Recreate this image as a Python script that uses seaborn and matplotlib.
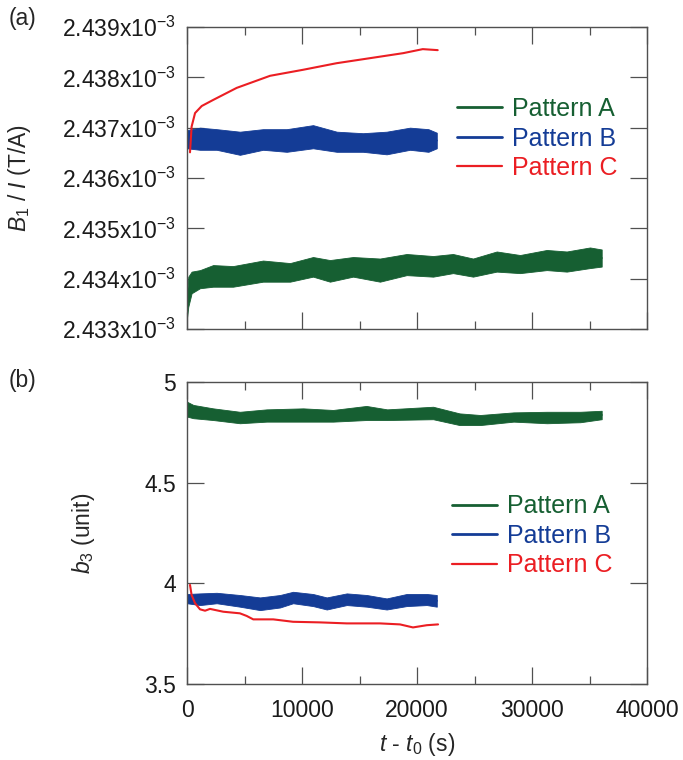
import matplotlib
matplotlib.use("Agg")
import matplotlib.pyplot as plt
from matplotlib.lines import Line2D
from matplotlib.ticker import FixedLocator, MultipleLocator, FuncFormatter
import numpy as np
import pandas as pd
import seaborn as sns

# --- data ------------------------------------------------------------------
# Panel (a): B1 / I in units of 1e-3 T/A. Noisy traces are kept as envelopes.
A1_T = [0, 110, 400, 1130, 2270, 4000, 6610, 8960, 10960, 12430, 14440, 16780,
        19100, 21400, 23130, 24870, 26930, 28960, 31280, 33020, 35040, 36060]
A1_LO = [2.43322, 2.43344, 2.43371, 2.43381, 2.43384, 2.43384, 2.43394, 2.43394,
         2.43404, 2.43394, 2.43404, 2.43394, 2.43407, 2.43404, 2.43411, 2.43404,
         2.43414, 2.43411, 2.43417, 2.43414, 2.43421, 2.43424]
A1_HI = [2.43360, 2.43404, 2.43414, 2.43417, 2.43427, 2.43425, 2.43436, 2.43431,
         2.43443, 2.43437, 2.43443, 2.43440, 2.43449, 2.43445, 2.43449, 2.43440,
         2.43454, 2.43447, 2.43457, 2.43454, 2.43462, 2.43458]

B1_T = [0, 1130, 2580, 4600, 6610, 8670, 10960, 13020, 15300, 17360, 19390, 20990, 21720]
B1_LO = [2.43659, 2.43656, 2.43656, 2.43646, 2.43656, 2.43652, 2.43659, 2.43652,
         2.43652, 2.43647, 2.43656, 2.43652, 2.43659]
B1_HI = [2.43695, 2.43700, 2.43697, 2.43692, 2.43697, 2.43697, 2.43705, 2.43692,
         2.43689, 2.43692, 2.43700, 2.43697, 2.43690]

C1_T = [260, 400, 700, 1280, 2270, 4320, 7220, 10100, 13000, 15900, 18800, 20500, 21800]
C1_V = [2.43651, 2.43702, 2.43729, 2.43743, 2.43755, 2.43779, 2.43803, 2.43815,
        2.43828, 2.43838, 2.43848, 2.43856, 2.43854]

# Panel (b): b3 (unit)
A3_T = [0, 550, 2270, 4600, 6930, 10100, 12700, 15600, 17400, 21400, 23700, 25500,
        28400, 31300, 34200, 36060]
A3_LO = [4.828, 4.820, 4.811, 4.795, 4.803, 4.803, 4.803, 4.811, 4.811, 4.815,
         4.786, 4.786, 4.803, 4.795, 4.800, 4.815]
A3_HI = [4.902, 4.886, 4.869, 4.852, 4.864, 4.869, 4.861, 4.881, 4.864, 4.877,
         4.844, 4.836, 4.849, 4.852, 4.852, 4.857]

B3_T = [0, 1130, 2580, 4600, 6350, 8090, 9220, 10960, 12150, 13890, 15630, 17360,
        19100, 20850, 21720]
B3_LO = [3.901, 3.892, 3.901, 3.884, 3.867, 3.880, 3.901, 3.887, 3.870, 3.892,
         3.884, 3.870, 3.887, 3.892, 3.884]
B3_HI = [3.947, 3.950, 3.953, 3.942, 3.930, 3.942, 3.958, 3.947, 3.930, 3.950,
         3.942, 3.925, 3.947, 3.947, 3.942]

C3_T = [260, 400, 700, 1130, 1570, 2000, 3150, 4600, 5190, 5760, 7500, 9220,
        11570, 13890, 16780, 18520, 19650, 20850, 21830]
C3_V = [3.992, 3.942, 3.901, 3.871, 3.864, 3.873, 3.859, 3.851, 3.838, 3.821,
        3.821, 3.809, 3.806, 3.801, 3.801, 3.796, 3.781, 3.792, 3.796]

PATTERNS = ["Pattern A", "Pattern B", "Pattern C"]
COLORS = {"Pattern A": "#165f32", "Pattern B": "#143c96", "Pattern C": "#eb1e23"}
B1_TICKS = [2.433, 2.434, 2.435, 2.436, 2.437, 2.438, 2.439]
B3_TICKS = [3.5, 4.0, 4.5, 5.0]
T_TICKS = [0, 10000, 20000, 30000, 40000]


def band_frame(name, t, lo, hi, scale=1.0):
    """Two rows per time (low/high) so lineplot's min-max interval draws the band."""
    t = list(t) + list(t)
    v = (np.array(list(lo) + list(hi)) * scale).tolist()
    return pd.DataFrame({"t": t, "v": v, "pattern": name})


def line_frame(name, t, v, scale=1.0):
    return pd.DataFrame({"t": t, "v": (np.array(v) * scale).tolist(), "pattern": name})


df_a = pd.concat([
    band_frame("Pattern A", A1_T, A1_LO, A1_HI, 1e-3),
    band_frame("Pattern B", B1_T, B1_LO, B1_HI, 1e-3),
    line_frame("Pattern C", C1_T, C1_V, 1e-3),
])
df_b = pd.concat([
    band_frame("Pattern A", A3_T, A3_LO, A3_HI),
    band_frame("Pattern B", B3_T, B3_LO, B3_HI),
    line_frame("Pattern C", C3_T, C3_V),
])

# --- style --------------------------------------------------------------------
sns.set_style("ticks")
plt.rcParams["font.family"] = ["Liberation Sans", "DejaVu Sans"]
plt.rcParams["mathtext.fontset"] = "custom"
plt.rcParams["mathtext.rm"] = "Liberation Sans"
plt.rcParams["mathtext.it"] = "Liberation Sans:italic"
plt.rcParams["mathtext.default"] = "regular"

SPINE = "#505050"
FS_TICK = 16.5
FS_LEG = 18

fig = plt.figure(figsize=(6.83, 7.6), dpi=100)
ax_a = fig.add_axes([0.2738, 0.5671, 0.6735, 0.3974])
ax_b = fig.add_axes([0.2738, 0.1000, 0.6735, 0.3974])


def draw(ax, df):
    for name in PATTERNS:
        sub = df[df["pattern"] == name]
        sns.lineplot(
            data=sub, x="t", y="v", color=COLORS[name],
            estimator="mean", errorbar=("pi", 100),
            err_kws={"alpha": 1.0, "linewidth": 0.6, "edgecolor": COLORS[name]},
            lw=1.5, ax=ax, legend=False,
        )


def style_axes(ax):
    ax.set_xlim(0, 40000)
    ax.xaxis.set_major_locator(FixedLocator(T_TICKS))
    ax.xaxis.set_minor_locator(MultipleLocator(5000))
    ax.tick_params(which="both", direction="in", top=True, right=True,
                   color=SPINE, width=0.9, labelsize=FS_TICK, pad=8,
                   labelcolor="#1a1a1a")
    ax.tick_params(axis="x", pad=11)
    ax.tick_params(which="major", length=12)
    ax.tick_params(which="minor", length=6)
    for sp in ax.spines.values():
        sp.set_color(SPINE)
        sp.set_linewidth(1.0)
    ax.set_xlabel("")
    ax.set_ylabel("")


draw(ax_a, df_a)
draw(ax_b, df_b)
style_axes(ax_a)
style_axes(ax_b)

ax_a.set_ylim(2.433e-3, 2.439e-3)
ax_a.yaxis.set_major_locator(FixedLocator([v * 1e-3 for v in B1_TICKS]))
ax_a.yaxis.set_major_formatter(FuncFormatter(lambda v, p: f"{v * 1e3:.3f}x10$^{{-3}}$"))
ax_a.tick_params(axis="x", labelbottom=False)

ax_b.set_ylim(3.5, 5.0)
ax_b.yaxis.set_major_locator(FixedLocator(B3_TICKS))
ax_b.yaxis.set_major_formatter(FuncFormatter(lambda v, p: f"{v:g}"))

ax_a.set_ylabel(r"$\mathit{B}_1$ / $\mathit{I}$ (T/A)", fontsize=FS_TICK)
ax_a.yaxis.set_label_coords(-0.335, 0.5)
ax_b.set_ylabel(r"$\mathit{b}_3$ (unit)", fontsize=FS_TICK)
ax_b.yaxis.set_label_coords(-0.196, 0.5)
ax_b.set_xlabel(r"$\mathit{t}$ - $\mathit{t}_0$ (s)", fontsize=FS_TICK, labelpad=6)

fig.text(0.012, 0.975, "(a)", fontsize=FS_TICK, ha="left", va="center")
fig.text(0.012, 0.499, "(b)", fontsize=FS_TICK, ha="left", va="center")

handles = [Line2D([], [], color=COLORS[n], lw=2.0 if n != "Pattern C" else 1.6) for n in PATTERNS]
for ax, anchor in ((ax_a, (0.587, 0.768)), (ax_b, (0.576, 0.628))):
    ax.legend(handles, PATTERNS, loc="upper left", bbox_to_anchor=anchor,
              frameon=False, borderaxespad=0, borderpad=0, handlelength=1.8,
              handletextpad=0.4, labelspacing=0.22, fontsize=FS_LEG,
              labelcolor="linecolor")

fig.savefig("out.png", dpi=100)
